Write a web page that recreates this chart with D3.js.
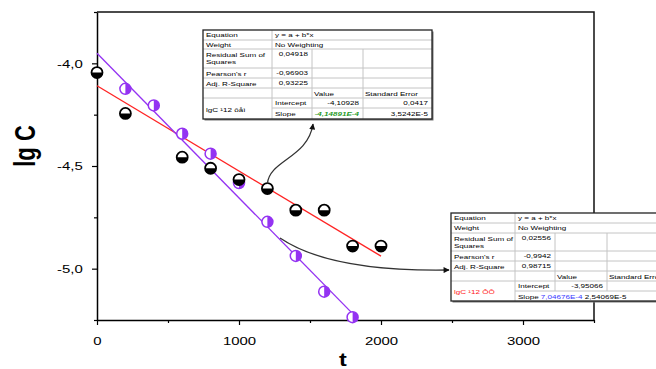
<!DOCTYPE html>
<html><head><meta charset="utf-8">
<script src="https://cdn.jsdelivr.net/npm/d3@7"></script>
<style>body{margin:0;background:#fff}svg{display:block;font-family:'Liberation Sans',Arial,sans-serif}</style>
</head><body><svg id="c" width="656" height="369"></svg>
<script>
// ---- data ----
const xTickVals=[0,1000,2000,3000];
const xMinorVals=[500,1500,2500,3500];
const yTickVals=[-4.0,-4.5,-5.0];
const yMinorVals=[-3.75,-4.25,-4.75,-5.25];
const tBlack=[0,200,600,800,1000,1200,1400,1600,1800,2000];
const lgcBlack=[-4.045,-4.244,-4.457,-4.511,-4.566,-4.610,-4.715,-4.715,-4.890,-4.890];
const tPurple=[200,400,600,800,1000,1200,1400,1600,1800];
const lgcPurple=[-4.124,-4.205,-4.343,-4.440,-4.583,-4.772,-4.938,-5.112,-5.236];
const fitIntercepts=[-4.10928,-3.95066];
const fitSlopes=[-4.14891e-4,-7.04676e-4];
const fitTMax=[2000,1800];
const xTitle="t", yTitle="lg C";
const t1Text=["Equation","y = a + b*x","Weight","No Weighting","Residual Sum of","Squares","0,04918","Pearson's r","-0,96903"," Adj. R-Square","0,93225","Value","Standard Error","lgC ¹12 ôåì","Intercept","-4,10928","0,0417","Slope","-4,14891E-4","3,5242E-5"];
const t2Text=["Equation","y = a + b*x","Weight","No Weighting","Residual Sum of","Squares","0,02556","Pearson's r","-0,9942","Adj. R-Square","0,98715","Value","Standard Error","lgC ¹12 ÔÕ","Intercept","-3,95066","0,03000","Slope","7,04676E-4","2,54069E-5"];

// ---- setup ----
const svg=d3.select('#c');
const SX=1.3;
const x=d3.scaleLinear().domain([0,3500]).range([97,594]);
const y=d3.scaleLinear().domain([-5.25,-3.75]).range([320,12]);
const RED='#ff2424', PUR='#9433f2';

svg.append('defs').append('marker').attr('id','ah').attr('viewBox','0 0 10 10')
  .attr('refX',9).attr('refY',5).attr('markerWidth',7).attr('markerHeight',6).attr('orient','auto')
  .attr('markerUnits','userSpaceOnUse')
  .append('path').attr('d','M0,0 L10,5 L0,10 Z').attr('fill','#111');

// axes
function styleAxis(g){g.attr('font-family',null).attr('font-size',null);
  g.select('.domain').attr('stroke','#000').attr('stroke-width',1.5);
  g.selectAll('.tick line').attr('stroke','#000').attr('stroke-width',1.2);}
const gx=svg.append('g').attr('transform',`translate(0,${y(-5.25)})`)
  .call(d3.axisBottom(x).tickValues(xTickVals).tickSize(5).tickSizeOuter(0).tickFormat(d=>String(d)));
styleAxis(gx);
gx.selectAll('.tick text').attr('y',17).attr('font-size',11.5).attr('fill','#000').attr('transform',`scale(${SX},1)`);
const gxm=svg.append('g').attr('transform',`translate(0,${y(-5.25)})`)
  .call(d3.axisBottom(x).tickValues(xMinorVals).tickSize(3).tickSizeOuter(0).tickFormat(''));
styleAxis(gxm);gxm.select('.domain').remove();
const gy=svg.append('g').attr('transform',`translate(${x(0)},0)`)
  .call(d3.axisLeft(y).tickValues(yTickVals).tickSize(5).tickSizeOuter(0).tickFormat(d=>d.toFixed(1).replace('.',',')));
styleAxis(gy);
gy.selectAll('.tick text').attr('x',-11).attr('font-size',11.5).attr('fill','#000').attr('transform',`scale(${SX},1)`);
const gym=svg.append('g').attr('transform',`translate(${x(0)},0)`)
  .call(d3.axisLeft(y).tickValues(yMinorVals).tickSize(3).tickSizeOuter(0).tickFormat(''));
styleAxis(gym);gym.select('.domain').remove();
// frame top/right
svg.append('path').attr('d',`M${x(0)},${y(-3.75)}H${x(3500)}V${y(-5.25)}`).attr('fill','none').attr('stroke','#111').attr('stroke-width',1.5);

// titles
svg.append('text').text(yTitle).attr('font-weight','bold').attr('font-size',22).attr('text-anchor','middle')
  .attr('transform',`translate(35,146) scale(${SX},1) rotate(-90)`);
svg.append('text').text(xTitle).attr('font-weight','bold').attr('font-size',18).attr('text-anchor','middle')
  .attr('transform',`translate(343,366) scale(${SX},1)`);

// fit lines
const line=d3.line().x(d=>x(d[0])).y(d=>y(d[1]));
[0,1].forEach(i=>{
  svg.append('path').attr('d',line([[0,fitIntercepts[i]],[fitTMax[i],fitIntercepts[i]+fitSlopes[i]*fitTMax[i]]]))
    .attr('stroke',i===0?RED:PUR).attr('stroke-width',1.3).attr('fill','none');
});

// markers
const R=5.5;
tPurple.forEach((t,i)=>{
  const cx=x(t),cy=y(lgcPurple[i]);
  const g=svg.append('g');
  g.append('circle').attr('cx',cx).attr('cy',cy).attr('r',R).attr('fill','#fff');
  g.append('path').attr('d',`M${cx},${cy-R}A${R},${R} 0 0 1 ${cx},${cy+R}Z`).attr('fill',PUR);
  g.append('circle').attr('cx',cx).attr('cy',cy).attr('r',R).attr('fill','none').attr('stroke',PUR).attr('stroke-width',1.5);
});
tBlack.forEach((t,i)=>{
  const cx=x(t),cy=y(lgcBlack[i]);
  const g=svg.append('g');
  g.append('circle').attr('cx',cx).attr('cy',cy).attr('r',R).attr('fill','#fff');
  g.append('path').attr('d',`M${cx-R},${cy}A${R},${R} 0 0 0 ${cx+R},${cy}Z`).attr('fill','#000');
  g.append('circle').attr('cx',cx).attr('cy',cy).attr('r',R).attr('fill','none').attr('stroke','#000').attr('stroke-width',1.8);
});

// arrows
const p1=[x(1200),y(lgcBlack[5])-5];
svg.append('path').attr('d',`M${p1[0]},${p1[1]} C${p1[0]+2},160 308,158 313,124`)
  .attr('fill','none').attr('stroke','#333').attr('stroke-width',1.3).attr('marker-end','url(#ah)');
svg.append('path').attr('d',`M280,238 Q330,272 449,270`)
  .attr('fill','none').attr('stroke','#333').attr('stroke-width',1.3).attr('marker-end','url(#ah)');

// tables
function table(T,cols,rows,green,blueFlow,redLabel){
  const g=svg.append('g');
  const x0=cols[0],x4=cols[4],y0=rows[0],y8=rows[8];
  g.append('rect').attr('x',x0+1.5).attr('y',y0+1.5).attr('width',x4-x0).attr('height',y8-y0).attr('fill','#777');
  g.append('rect').attr('x',x0).attr('y',y0).attr('width',x4-x0).attr('height',y8-y0).attr('fill','#fff');
  const L=(xa,ya,xb,yb)=>g.append('line').attr('x1',xa).attr('y1',ya).attr('x2',xb).attr('y2',yb).attr('stroke','#c4c4c4').attr('stroke-width',1);
  for(let r=1;r<8;r++){ if(r===7) L(cols[1],rows[r],x4,rows[r]); else L(x0,rows[r],x4,rows[r]); }
  L(cols[1],y0,cols[1],y8);
  L(cols[2],rows[2],cols[2],blueFlow?rows[7]:y8);
  L(cols[3],rows[2],cols[3],blueFlow?rows[7]:y8);
  g.append('rect').attr('x',x0).attr('y',y0).attr('width',x4-x0).attr('height',y8-y0).attr('fill','none').attr('stroke','#222').attr('stroke-width',1.3);
  const tx=(s,xx,yy,anchor,opt={})=>{
    const e=g.append('text').text(s).attr('font-size',6.2).attr('text-anchor',anchor)
      .attr('transform',`translate(${xx},${yy}) scale(${SX},1)`).attr('fill',opt.fill||'#000');
    if(opt.bold)e.attr('font-weight','bold');if(opt.italic)e.attr('font-style','italic');return e;};
  const bl=r=>rows[r]+6.8;
  tx(T[0],x0+3,bl(0),'start');tx(T[1],cols[1]+3,bl(0),'start');
  tx(T[2],x0+3,bl(1),'start');tx(T[3],cols[1]+3,bl(1),'start');
  tx(T[4],x0+3,bl(2)+1,'start');tx(T[5],x0+3,bl(2)+8.5,'start');tx(T[6],cols[2]-4,bl(2),'end');
  tx(T[7],x0+3,bl(3)+1,'start');tx(T[8],cols[2]-4,bl(3),'end');
  tx(T[9],x0+3,bl(4)+1,'start');tx(T[10],cols[2]-4,bl(4),'end');
  tx(T[11],cols[2]+2,bl(5)+1,'start');tx(T[12],cols[3]+2,bl(5)+1,'start');
  tx(T[13],x0+3,(rows[6]+rows[8])/2+3,'start',{fill:redLabel?'#ff1a1a':'#000'});
  tx(T[14],cols[1]+3,bl(6),'start');tx(T[15],cols[3]-4,bl(6),'end');tx(T[16],x4-4,bl(6),'end');
  if(!blueFlow){
    tx(T[17],cols[1]+3,bl(7)+1,'start');
    tx(T[18],cols[3]-4,bl(7)+1,'end',{fill:green,bold:true,italic:true});
    tx(T[19],x4-4,bl(7)+1,'end');
  } else {
    const e=g.append('text').attr('font-size',6.2).attr('transform',`translate(${cols[1]+3},${bl(7)+1}) scale(${SX},1)`);
    e.append('tspan').text(T[17]+' ');
    e.append('tspan').attr('fill','#3a3aff').text(T[18]);
    e.append('tspan').text(' '+T[19]);
  }
}
table(t1Text,[203,272,312,363,432],[30,40,49,68,78,88,98,108,119],'#1f9a1f',false,false);
table(t2Text,[451,515,555,607,690],[213,223,233,251,261,271,281,291,301],null,true,true);
</script></body></html>
